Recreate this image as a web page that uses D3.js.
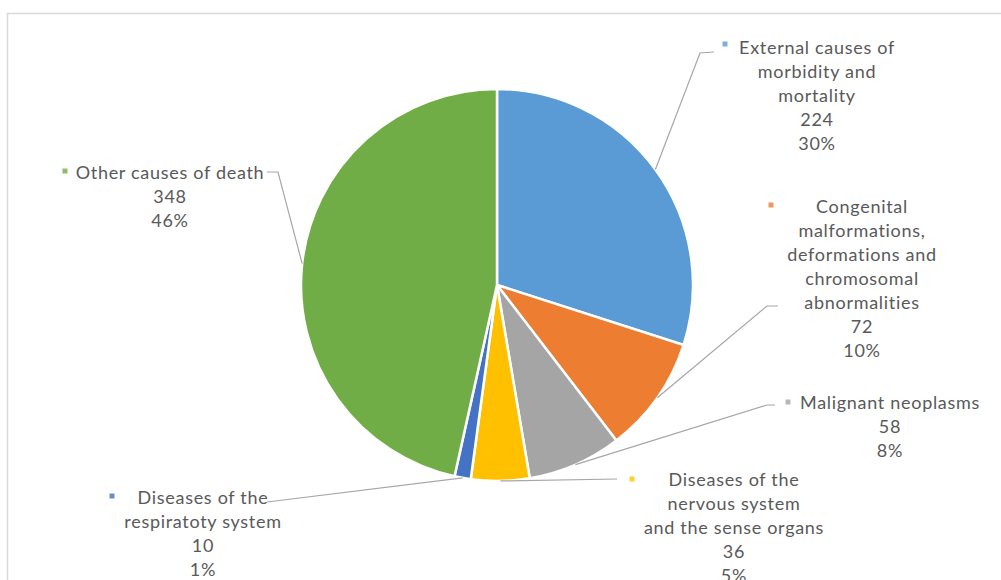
<!DOCTYPE html>
<html>
<head>
<meta charset="utf-8">
<script src="https://cdn.jsdelivr.net/npm/d3@7"></script>
<style>
  body { margin: 0; background: #fff; }
  svg { display: block; }
  .lbl { font-family: Lato, "Open Sans", sans-serif; font-size: 18px; fill: #595959; letter-spacing: 0.7px; }
</style>
</head>
<body>
<div id="chart"></div>
<script>
// causes of death, clockwise from 12 o'clock
var categories = [
    ["External causes of", "morbidity and", "mortality"],
    ["Congenital", "malformations,", "deformations and", "chromosomal", "abnormalities"],
    ["Malignant neoplasms"],
    ["Diseases of the", "nervous system", "and the sense organs"],
    ["Diseases of the", "respiratoty system"],
    ["Other causes of death"]
];
var values = [224, 72, 58, 36, 10, 348];
var percentLabels = ["30%", "10%", "8%", "5%", "1%", "46%"];
var colors = ["#5B9BD5", "#ED7D31", "#A5A5A5", "#FFC000", "#4472C4", "#70AD47"];

// where each label block sits (text centre x, first line y, marker, leader line bend/end)
var labelLayout = [
    {cx: 817, y: 48,  mx: 725, my: 44,  bend: [700, 53],  end: [714, 52]},
    {cx: 862, y: 207, mx: 771, my: 205, bend: [767, 306], end: [778, 306]},
    {cx: 890, y: 403, mx: 788, my: 402, bend: [767, 405], end: [775, 405]},
    {cx: 734, y: 480, mx: 632, my: 479, bend: null,       end: [617, 479]},
    {cx: 203, y: 498, mx: 112, my: 496, bend: null,       end: [267, 502]},
    {cx: 170, y: 173, mx: 65,  my: 171, bend: [278, 172], end: [267, 172]}
];

function draw(){
    var width = 1001, height = 580;
    var cx = 497, cy = 285, radius = 196;

    var svg = d3.select("#chart")
                .append("svg")
                .attr("width", width)
                .attr("height", height);

    // chart frame (only top and left edges are visible)
    svg.append("path")
       .attr("d", "M7.5,580 V13.5 H1001")
       .attr("fill", "none")
       .attr("stroke", "#d9d9d9")
       .attr("stroke-width", 1.5);

    var pie = d3.pie().sort(null).value(d=>d)
    var slices = pie(values)
    var arc = d3.arc().innerRadius(0).outerRadius(radius)
    var edge = d3.arc().innerRadius(radius).outerRadius(radius)

    var g = svg.append("g")
               .attr("transform", "translate(" + cx + "," + cy + ")");

    g.selectAll(".slice")
     .data(slices)
     .enter()
     .append("path")
     .classed("slice", true)
     .attr("d", arc)
     .attr("fill", (d, i)=>colors[i])
     .attr("stroke", "#fff")
     .attr("stroke-width", 2.5)

    // leader lines
    svg.append("g")
       .selectAll("polyline")
       .data(slices)
       .enter()
       .append("polyline")
       .attr("fill", "none")
       .attr("stroke", "#a6a6a6")
       .attr("stroke-width", 1.2)
       .attr("points", function(d, i){
           var c = edge.centroid(d);
           var p = [[cx + c[0], cy + c[1]]];
           var L = labelLayout[i];
           if (L.bend) p.push(L.bend);
           p.push(L.end);
           return p.map(q=>q.join(",")).join(" ");
       })

    // legend-key markers
    svg.append("g")
       .selectAll("rect")
       .data(slices)
       .enter()
       .append("rect")
       .attr("x", (d, i)=>labelLayout[i].mx - 2.5)
       .attr("y", (d, i)=>labelLayout[i].my - 2.5)
       .attr("width", 5)
       .attr("height", 5)
       .attr("fill", (d, i)=>colors[i])
       .attr("opacity", 0.8)

    // label text blocks
    var lineH = 24;
    var labels = svg.append("g")
                    .selectAll("text")
                    .data(slices)
                    .enter()
                    .append("text")
                    .classed("lbl", true)
                    .attr("text-anchor", "middle")
    labels.each(function(d, i){
        var L = labelLayout[i];
        var lines = categories[i].concat([String(d.data), percentLabels[i]]);
        d3.select(this)
          .selectAll("tspan")
          .data(lines)
          .enter()
          .append("tspan")
          .attr("x", L.cx)
          .attr("y", (t, j)=>L.y + 6 + j * lineH)
          .text(t=>t)
    })
}

draw();
</script>
</body>
</html>
